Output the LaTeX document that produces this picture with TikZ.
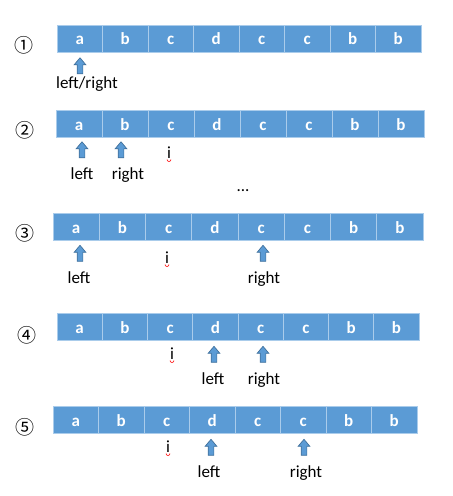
\documentclass[tikz,border=0pt]{standalone}
\usepackage{fontspec}
\setmainfont{Carlito}
\newfontfamily\cjk{Noto Sans CJK SC}
\usetikzlibrary{shapes.arrows}

\definecolor{cellblue}{RGB}{91,155,213}
\definecolor{celledge}{RGB}{170,204,235}
\definecolor{ptredge}{RGB}{65,113,156}

\tikzset{
  cell/.style={fill=cellblue, draw=celledge, line width=1pt, inner sep=0pt,
    minimum height=27pt, text=white, font=\bfseries\fontsize{17}{17}\selectfont,
    text height=12pt, text depth=0pt},
  ptr/.style={single arrow, shape border rotate=90, fill=cellblue, draw=ptredge,
    line width=0.7pt, minimum width=11pt, minimum height=16pt,
    single arrow head extend=3pt, single arrow tip angle=80,
    inner sep=2.5pt},
  lab/.style={anchor=base, inner sep=0pt, font=\fontsize{17}{17}\selectfont},
  num/.style={inner sep=0pt, font=\cjk\fontsize{19}{19}\selectfont},
  squig/.style={red, line width=0.6pt}
}

\begin{document}
\begin{tikzpicture}[x=1pt, y=-1pt]
                \useasboundingbox (0,0) rectangle (453,496);
                % Row 1
                \node[num] (n1) at (24,45) {①};
                \foreach \c [count=\k] in {a,b,c,d,c,c,b,b}
                  \node[cell, minimum width=45.5pt] (r1c\k) at ({57+45.5*(\k-0.5)},38.5) {\c};
                \node[ptr] (r1lr) at (80,67.5) {};
                \node[lab] (r1lrlab) at (87,88) {left/right};
                % Row 2
                \node[num] (n2) at (25,130) {②};
                \foreach \c [count=\k] in {a,b,c,d,c,c,b,b}
                  \node[cell, minimum width=46pt] (r2c\k) at ({56+46*(\k-0.5)},124) {\c};
                \node[ptr] (r2left) at (82,151.5) {};
                \node[ptr] (r2right) at (121,151.5) {};
                \node[lab] (r2i) at (169,158) {i};
                \draw[squig] ([xshift=-2pt,yshift=-1.5pt]r2i.base) arc[start angle=180, end angle=360, radius=2pt];
                \node[lab] (r2leftlab) at (82,179) {left};
                \node[lab] (r2rightlab) at (128,179) {right};
                \node[lab] (dots) at (243,191) {...};
                % Row 3
                \node[num] (n3) at (25,233) {③};
                \foreach \c [count=\k] in {a,b,c,d,c,c,b,b}
                  \node[cell, minimum width=46.25pt] (r3c\k) at ({53+46.25*(\k-0.5)},227) {\c};
                \node[ptr] (r3left) at (80,255) {};
                \node[ptr] (r3right) at (263,255) {};
                \node[lab] (r3i) at (167,263) {i};
                \draw[squig] ([xshift=-2pt,yshift=-1.5pt]r3i.base) arc[start angle=180, end angle=360, radius=2pt];
                \node[lab] (r3leftlab) at (79,283) {left};
                \node[lab] (r3rightlab) at (264,283) {right};
                % Row 4
                \node[num] (n4) at (27,335) {④};
                \foreach \c [count=\k] in {a,b,c,d,c,c,b,b}
                  \node[cell, minimum width=45.25pt] (r4c\k) at ({57+45.25*(\k-0.5)},327) {\c};
                \node[ptr] (r4left) at (214,356) {};
                \node[ptr] (r4right) at (263,356) {};
                \node[lab] (r4i) at (172,359) {i};
                \draw[squig] ([xshift=-2pt,yshift=-1.5pt]r4i.base) arc[start angle=180, end angle=360, radius=2pt];
                \node[lab] (r4leftlab) at (213,384) {left};
                \node[lab] (r4rightlab) at (264,384) {right};
                % Row 5
                \node[num] (n5) at (25,427) {⑤};
                \foreach \c [count=\k] in {a,b,c,d,c,c,b,b}
                  \node[cell, minimum width=45.5pt] (r5c\k) at ({53+45.5*(\k-0.5)},420) {\c};
                \node[ptr] (r5left) at (211,449) {};
                \node[ptr] (r5right) at (304,449) {};
                \node[lab] (r5i) at (168,452) {i};
                \draw[squig] ([xshift=-2pt,yshift=-1.5pt]r5i.base) arc[start angle=180, end angle=360, radius=2pt];
                \node[lab] (r5leftlab) at (209,477) {left};
                \node[lab] (r5rightlab) at (306,477) {right};
            \end{tikzpicture}
\end{document}
